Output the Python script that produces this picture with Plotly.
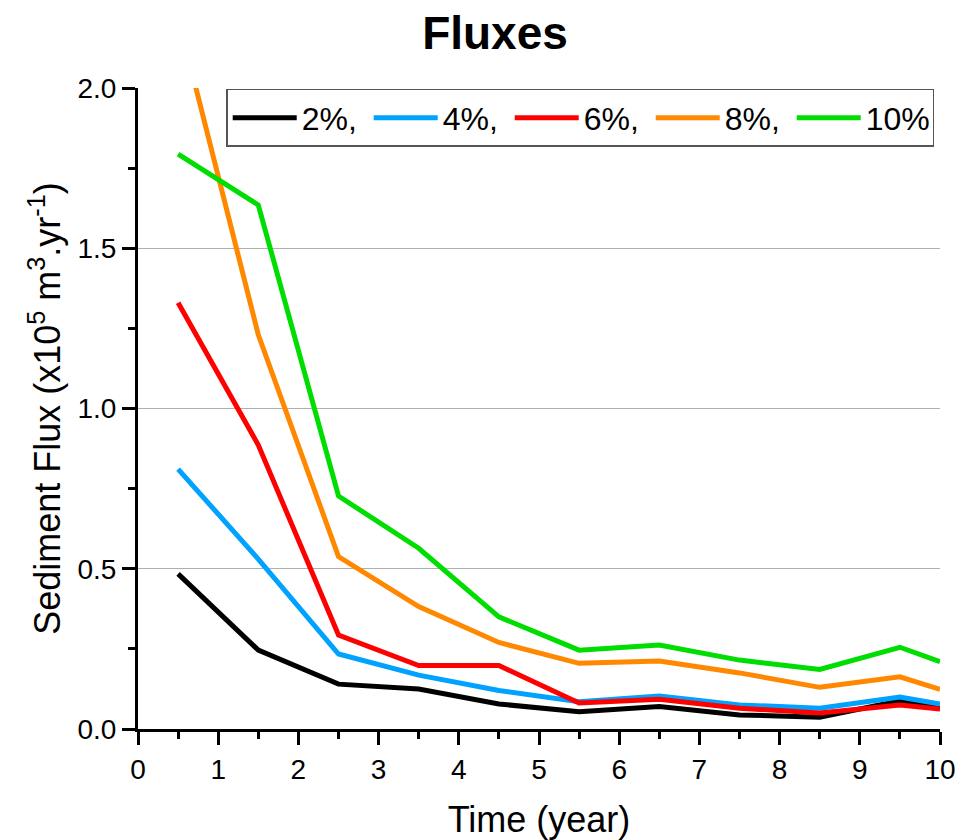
import plotly.graph_objects as go

time = [0.5, 1.5, 2.5, 3.5, 4.5, 5.5, 6.5, 7.5, 8.5, 9.5, 10]
flux_2 = [0.484, 0.246, 0.140, 0.125, 0.078, 0.054, 0.070, 0.044, 0.037, 0.088, 0.065]
flux_4 = [0.811, 0.530, 0.234, 0.168, 0.120, 0.085, 0.103, 0.075, 0.065, 0.100, 0.078]
flux_6 = [1.330, 0.886, 0.293, 0.198, 0.198, 0.081, 0.093, 0.065, 0.050, 0.075, 0.062]
flux_8 = [2.220, 1.230, 0.538, 0.382, 0.270, 0.205, 0.212, 0.175, 0.130, 0.163, 0.124]
flux_10 = [1.794, 1.635, 0.727, 0.564, 0.350, 0.246, 0.262, 0.215, 0.186, 0.255, 0.210]

labels = ['2%,', '4%,', '6%,', '8%,', '10%']
colors = ['#000000', '#00a2ff', '#ff0000', '#ff8800', '#00dd00']

fig = go.Figure()
for name, ys, c in zip(labels, [flux_2, flux_4, flux_6, flux_8, flux_10], colors):
    fig.add_trace(go.Scatter(x=time, y=ys, mode='lines', name=name,
                             line=dict(color=c, width=5)))

font = 'Liberation Sans, Arial, sans-serif'
fig.update_layout(
    width=974, height=840,
    plot_bgcolor='white', paper_bgcolor='white',
    margin=dict(l=130, r=42, t=80, b=119),
    font=dict(family=font, color='black'),
    title=dict(text='<b>Fluxes</b>', x=0.5, xanchor='center', y=0.97, yanchor='middle',
               font=dict(size=46, family=font)),
    legend=dict(orientation='h', x=0.11, y=0.9985, xanchor='left', yanchor='top',
                bordercolor='#555555', borderwidth=1.5, bgcolor='white',
                font=dict(size=32), itemwidth=64, entrywidth=62, entrywidthmode='pixels',
                tracegroupgap=0),
    xaxis=dict(range=[0, 10], dtick=1, showgrid=False, zeroline=False,
               showline=True, linecolor='black', linewidth=3,
               ticks='outside', ticklen=13, tickwidth=3, tickcolor='black',
               tickfont=dict(size=28),
               minor=dict(ticks='outside', dtick=0.5, ticklen=7, tickwidth=3, tickcolor='black'),
               title=dict(text='Time (year)', font=dict(size=36), standoff=24)),
    yaxis=dict(range=[0, 2.0], dtick=0.5, tickformat='.1f',
               showgrid=True, gridcolor='#b0b0b0', gridwidth=1, zeroline=False,
               showline=True, linecolor='black', linewidth=3,
               ticks='outside', ticklen=13, tickwidth=3, tickcolor='black',
               tickfont=dict(size=28),
               minor=dict(ticks='outside', dtick=0.25, ticklen=7, tickwidth=3, tickcolor='black'),
               title=dict(text='Sediment Flux (x10<sup>5</sup> m<sup>3</sup>.yr<sup>-1</sup>)',
                          font=dict(size=36), standoff=6)),
)

fig.write_html("out.html")
